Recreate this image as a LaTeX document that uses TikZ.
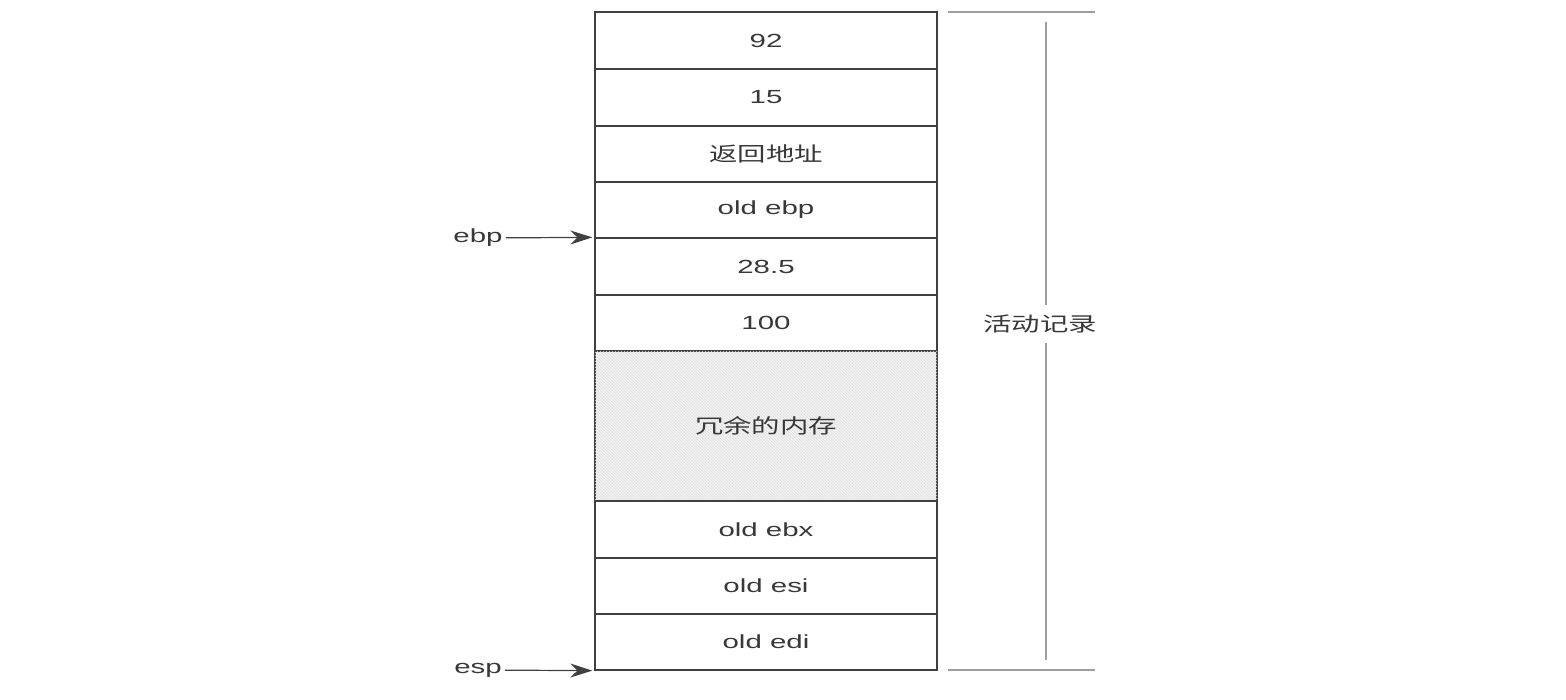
\documentclass[tikz,border=0pt]{standalone}
\usepackage{fontspec}
\setmainfont{Liberation Sans}[FakeStretch=1.55]
\newfontfamily\cjk{Noto Sans CJK SC}[FakeStretch=1.42]
\usepackage{xcolor}
\usetikzlibrary{arrows.meta, patterns, positioning}
\definecolor{stackline}{rgb}{0.25, 0.25, 0.25}
\definecolor{stacktext}{rgb}{0.22, 0.22, 0.22}
\definecolor{bracegray}{rgb}{0.62, 0.62, 0.62}

\tikzset{
    cell/.style={draw=stackline, line width=1.3pt, rectangle, inner sep=0pt,
        minimum width=342pt, text=stacktext, font=\fontsize{19}{22}\selectfont},
    spare/.style={cell, fill=gray!10, postaction={pattern=north west lines, pattern color=gray!25}},
    cjktext/.style={font=\cjk\fontsize{20}{24}\selectfont},
    reglabel/.style={text=stacktext, font=\fontsize{19}{22}\selectfont, inner sep=3pt},
    ptr/.style={-{Stealth[length=22pt, width=14pt]}, line width=1.2pt, draw=stackline, shorten >=2pt},
    frame/.style={draw=bracegray, line width=1.2pt}
}

\begin{document}
\begin{tikzpicture}[x=1pt, y=-1pt]
        \useasboundingbox (0,0) rectangle (1566,699);

        % stack cells, top to bottom
        \node[cell, minimum height=57pt] (c1) at (766,40.5) {92};
        \node[cell, minimum height=57pt] (c2) at (766,97.5) {15};
        \node[cell, cjktext, minimum height=56pt] (c3) at (766,154) {返回地址};
        \node[cell, minimum height=56pt] (c4) at (766,210) {old ebp};
        \node[cell, minimum height=57pt] (c5) at (766,266.5) {28.5};
        \node[cell, minimum height=56pt] (c6) at (766,323) {100};
        \node[spare, cjktext, minimum height=150pt] (c7) at (766,426) {冗余的内存};
        \node[cell, minimum height=57pt] (c8) at (766,529.5) {old ebx};
        \node[cell, minimum height=56pt] (c9) at (766,586) {old esi};
        \node[cell, minimum height=56pt] (c10) at (766,642) {old edi};

        % register pointers
        \node[reglabel] (ebp) at (478,238) {ebp};
        \node[reglabel] (esp) at (478,670) {esp};
        \draw[ptr] (ebp) -- (c5.north west);
        \draw[ptr] (esp) -- (c10.south west);

        % activation record bracket
        \coordinate (R1) at (948,12);
        \coordinate (R2) at (1095,12);
        \coordinate (R3) at (948,670);
        \coordinate (R4) at (1095,670);
        \coordinate (RT) at (1046,22);
        \coordinate (RB) at (1046,660);
        \node[cjktext, text=stacktext, fill=white, inner sep=10pt] (rec) at (1040,324) {活动记录};

        \draw[frame] (R1) -- (R2);
        \draw[frame] (R3) -- (R4);
        \draw[frame] (RT) -- (rec.north -| RT);
        \draw[frame] (rec.south -| RB) -- (RB);
    \end{tikzpicture}
\end{document}
